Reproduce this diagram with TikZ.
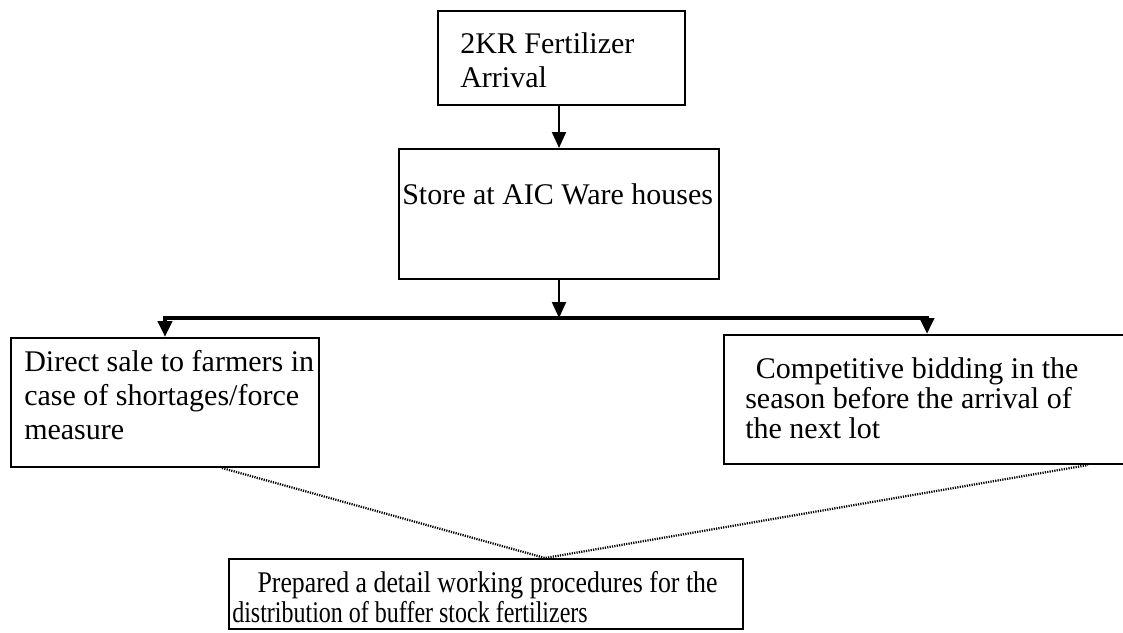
\documentclass[tikz,border=0pt]{standalone}
\usepackage{fontspec}
\setmainfont{Liberation Serif}
\newfontfamily\narrowserif[FakeStretch=0.86]{Liberation Serif}
\newfontfamily\narrowerserif[FakeStretch=0.80]{Liberation Serif}
\usetikzlibrary{arrows.meta,calc}
\begin{document}
\begin{tikzpicture}[x=0.75pt,y=-0.75pt,
  boxframe/.style={draw, line width=1.5pt, rectangle, inner sep=0pt, anchor=north west},
  boxtext/.style={anchor=north west, inner sep=0pt, align=left,
    font=\fontsize{22.5}{25.5}\selectfont},
  tighttext/.style={boxtext, font=\fontsize{22.5}{22.5}\selectfont},
  flow/.style={line width=1.5pt, -{Triangle[width=10.5pt,length=12pt]}},
  fork/.style={line width=3pt, {Triangle[width=10.5pt,length=12pt]}-{Triangle[width=10.5pt,length=12pt]}},
  linkdots/.style={line width=1.7pt, dash pattern=on 0.9pt off 0.9pt}]
\clip (0,0) rectangle (1123,632);
\fill[white] (0,0) rectangle (1123,632);

% boxes
\node[boxframe, minimum width=185.25pt, minimum height=70.5pt] (arrival) at (437,10) {};
\node[boxframe, minimum width=240pt, minimum height=97.5pt] (store) at (398,148) {};
\node[boxframe, minimum width=231pt, minimum height=96.75pt] (direct) at (10,337) {};
\node[boxframe, minimum width=312.75pt, minimum height=96.75pt] (bidding) at (723,334) {};
\node[boxframe, minimum width=385.5pt, minimum height=52.5pt] (procedure) at (228,558) {};

% box texts
\node[boxtext] (arrivaltxt) at (460,32) {2KR Fertilizer\\Arrival};
\node[boxtext] (storetxt) at (402,183) {Store at AIC Ware houses};
\node[boxtext] (directtxt) at (24,350) {Direct sale to farmers in\\case of shortages/force\\measure};
\node[tighttext] (biddingtxt) at (745,357) {\hspace*{8pt}Competitive bidding in the\\season before the arrival of\\the next lot};
\node[boxtext, font=\narrowserif\fontsize{22.5}{22.5}\selectfont] (proceduretxt) at (232,571)
  {\hspace*{19pt}Prepared a detail working procedures for the\\{\narrowerserif distribution of buffer stock fertilizers}};

% flow arrows
\draw[flow] (store.north |- arrival.south) -- (store.north);
\coordinate (barL) at (165,318);
\coordinate (barR) at (927,318);
\coordinate (split) at (store.south |- barL);
\draw[flow] (store.south) -- (split);
\draw[fork] (barL |- direct.north) -- (barL) -- (barR) -- (barR |- bidding.north);

% dotted links into the procedure box
\coordinate (fromdirect) at ($(direct.south west)+(212,0)$);
\coordinate (frombidding) at ($(bidding.south west)+(365,0)$);
\coordinate (meet) at (procedure.north -| 545,0);
\draw[linkdots] (fromdirect) -- (meet) -- (frombidding);
\end{tikzpicture}
\end{document}
